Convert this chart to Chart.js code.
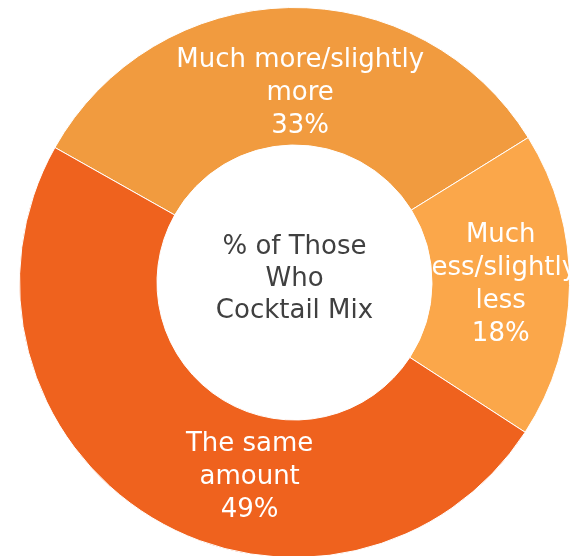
<!DOCTYPE html>
<html>
<head>
<meta charset="utf-8">
<script src="https://cdn.jsdelivr.net/npm/chart.js@4/dist/chart.umd.min.js"></script>
<style>
  html, body { margin: 0; padding: 0; background: #fff; }
  #wrap { position: relative; width: 573px; height: 556px; overflow: hidden; }
  #box { position: absolute; left: 19px; top: 7px; width: 551px; height: 551px; }
</style>
</head>
<body>
<div id="wrap"><div id="box"><canvas id="myChart"></canvas></div></div>
<script>
// data
const categories = ["Much more/slightly more", "Much less/slightly less", "The same amount"];
const values = [33, 18, 49];
const labelLines = [
  ["Much more/slightly", "more"],
  ["Much", "less/slightly", "less"],
  ["The same", "amount"]
];
const colors = ["#F19B3F", "#FBA74A", "#EF621E"];
const centerText = ["% of Those", "Who", "Cocktail Mix"];

// small nudges so the labels sit where the original puts them
const labelShift = [[10, 17], [0, 0], [62, 18]];

const FONT = "'DejaVu Sans', sans-serif";

const sliceLabels = {
  id: "sliceLabels",
  afterDatasetsDraw(chart) {
    const ctx = chart.ctx;
    const meta = chart.getDatasetMeta(0);
    ctx.save();
    ctx.textAlign = "center";
    ctx.textBaseline = "middle";
    ctx.fillStyle = "#ffffff";
    ctx.font = "26px " + FONT;
    meta.data.forEach(function(arc, i) {
      const p = arc.tooltipPosition();
      const lines = labelLines[i].concat([values[i] + "%"]);
      const lh = 33;
      let y = p.y + labelShift[i][1] - (lines.length - 1) * lh / 2;
      lines.forEach(function(t) {
        ctx.fillText(t, p.x + labelShift[i][0], y);
        y += lh;
      });
    });
    // centre text
    const cx = (chart.chartArea.left + chart.chartArea.right) / 2;
    const cy = (chart.chartArea.top + chart.chartArea.bottom) / 2;
    ctx.fillStyle = "#404040";
    ctx.font = "26px " + FONT;
    let y = cy - 3 - 32;
    centerText.forEach(function(t) {
      ctx.fillText(t, cx, y);
      y += 32;
    });
    ctx.restore();
  }
};

new Chart(document.getElementById("myChart"), {
  type: "doughnut",
  data: {
    labels: categories,
    datasets: [{
      data: values,
      backgroundColor: colors,
      borderColor: "#ffffff",
      borderWidth: 1
    }]
  },
  options: {
    responsive: true,
    maintainAspectRatio: false,
    animation: false,
    rotation: -60.6,
    cutout: "50%",
    layout: { padding: 0 },
    plugins: {
      legend: { display: false },
      tooltip: { enabled: false }
    }
  },
  plugins: [sliceLabels]
});
</script>
</body>
</html>
